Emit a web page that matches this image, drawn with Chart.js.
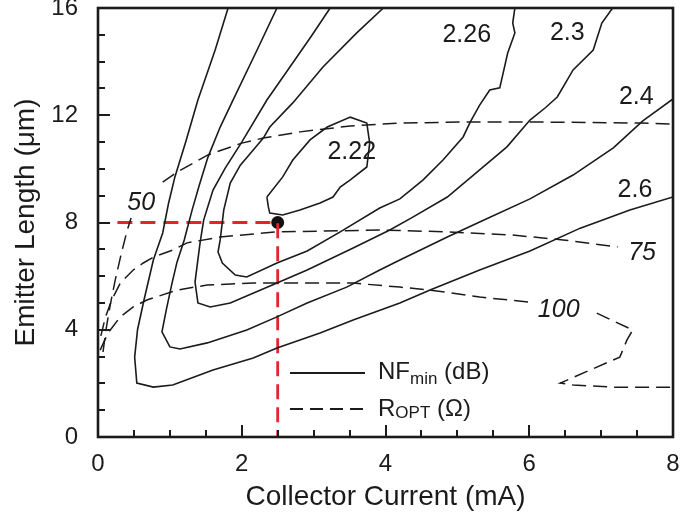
<!DOCTYPE html>
<html>
<head>
<meta charset="utf-8">
<script src="https://cdn.jsdelivr.net/npm/chart.js@4/dist/chart.umd.min.js"></script>
<style>
  html, body { margin: 0; padding: 0; background: #ffffff; }
  #wrap { width: 680px; height: 523px; }
</style>
</head>
<body>
<div id="wrap"><canvas id="chart" width="680" height="523"></canvas></div>
<script>
// NFmin contours (dB): [collector current mA, emitter length um]
const nf222 = [[2.35,8.95],[2.57,9.70],[2.71,10.33],[2.95,11.08],[3.19,11.56],[3.51,11.93],[3.74,11.71],[3.78,10.96],[3.74,10.07],[3.51,9.59],[3.37,9.32],[3.27,8.95],[3.09,8.73],[2.81,8.47],[2.57,8.28],[2.39,8.35],[2.37,8.58],[2.35,8.95]];
const nf226 = [[3.97,16.0],[3.60,15.07],[3.13,13.80],[2.71,12.46],[2.39,11.56],[2.30,11.15],[2.16,10.70],[1.98,10.14],[1.84,9.47],[1.75,8.47],[1.70,7.35],[1.67,6.90],[1.73,6.49],[1.91,6.04],[2.07,5.97],[2.49,6.49],[2.91,6.94],[3.37,7.65],[3.92,8.54],[4.20,8.88],[4.52,9.58],[4.80,10.33],[5.08,11.19],[5.18,11.75],[5.31,12.38],[5.45,12.94],[5.59,13.02],[5.70,14.32],[5.80,15.07],[5.77,15.44],[5.80,16.0]];
const nf230 = [[3.23,16.0],[2.96,14.92],[2.67,13.80],[2.35,12.57],[2.00,11.00],[1.77,10.03],[1.60,9.21],[1.47,8.09],[1.42,7.24],[1.38,6.41],[1.35,5.78],[1.39,5.00],[1.56,4.85],[1.84,5.00],[2.49,5.74],[2.91,6.23],[3.55,7.05],[4.06,7.72],[4.38,8.20],[4.86,8.95],[5.31,9.96],[5.69,10.82],[6.01,11.82],[6.22,12.27],[6.39,12.68],[6.61,13.69],[6.89,14.43],[7.01,15.44],[7.16,16.0]];
const nf240 = [[2.49,16.0],[2.20,14.36],[1.88,12.57],[1.70,11.56],[1.53,10.44],[1.41,9.40],[1.31,8.47],[1.20,7.35],[1.10,6.53],[1.03,5.74],[0.95,4.74],[0.89,3.92],[1.00,3.36],[1.14,3.28],[1.52,3.51],[2.07,3.99],[2.49,4.48],[2.91,5.00],[3.46,5.59],[3.92,6.23],[4.20,6.60],[4.86,7.46],[5.31,8.02],[6.01,8.88],[6.61,9.77],[7.17,10.78],[7.58,11.79],[8.0,12.61]];
const nf260 = [[1.81,16.0],[1.63,14.43],[1.39,12.57],[1.22,11.0],[1.07,9.70],[0.98,8.70],[0.90,7.61],[0.77,6.60],[0.64,5.11],[0.55,4.00],[0.51,2.98],[0.54,2.01],[0.77,1.86],[1.04,1.94],[1.60,2.50],[2.16,2.95],[2.49,3.32],[3.09,3.88],[3.55,4.36],[4.20,5.00],[4.62,5.48],[5.31,6.23],[6.01,6.94],[6.71,7.79],[7.40,8.47],[8.0,8.95]];

// Optimum source resistance contours (ohm); null marks the break left for the value
const ropt50 = [[0.07,3.17],[0.11,3.99],[0.17,4.92],[0.24,5.86],[0.32,6.79],[0.40,7.65],[0.46,8.17],null,[0.90,9.51],[1.10,9.88],[1.53,10.52],[2.00,10.96],[2.30,11.15],[2.81,11.38],[3.51,11.60],[4.20,11.71],[5.18,11.75],[6.04,11.75],[7.57,11.71],[8.0,11.67]];
const ropt75 = [[0.04,3.77],[0.10,4.44],[0.19,5.11],[0.31,5.74],[0.49,6.23],[0.63,6.49],[0.77,6.71],[1.04,6.97],[1.24,7.24],[1.70,7.46],[2.49,7.65],[3.92,7.72],[4.86,7.65],[5.77,7.53],[6.47,7.35],[7.23,7.09]];
const ropt100 = [[0.03,3.24],[0.14,3.88],[0.31,4.48],[0.49,4.85],[0.68,5.11],[1.10,5.48],[1.52,5.67],[2.16,5.74],[3.55,5.74],[4.20,5.59],[4.62,5.48],[5.31,5.22],[6.01,5.03],null,[6.94,4.62],[7.44,3.99],[7.36,3.62],[7.26,2.98],[6.43,2.01],[6.61,1.94],[7.17,1.86],[8.0,1.86]];

// Chosen operating point and the start of its guide line
const optCurrent = 2.5;
const optLength = 8;
const guideStart = 0.27;

// Contour values and where each value is written (data units)
const nfLevels = ['2.22', '2.26', '2.3', '2.4', '2.6'];
const nfLabelAt = [[3.53,10.63],[5.13,14.99],[6.53,15.07],[7.49,12.68],[7.47,9.21]];
const roptLevels = ['50', '75', '100'];
const roptLabelAt = [[0.60,8.73],[7.57,6.86],[6.41,4.74]];

const xTicks = [0, 2, 4, 6, 8];
const yTicks = [0, 4, 8, 12, 16];

const FONT = '"Liberation Sans", Arial, Helvetica, sans-serif';
const INK = '#1b1b1b';
const RED = '#e3242b';

const toPts = arr => arr.map(p => p === null ? { x: null, y: null } : { x: p[0], y: p[1] });

const solid = (data) => ({
  data: toPts(data), showLine: true, borderColor: INK, borderWidth: 1.6,
  pointRadius: 0, pointHoverRadius: 0, spanGaps: false, tension: 0, fill: false
});
const dashed = (data) => Object.assign(solid(data), { borderDash: [14, 7], borderWidth: 1.5 });

// Inward tick marks and the closed plot frame
const frameTicks = {
  id: 'frameTicks',
  afterDatasetsDraw(chart) {
    const { ctx, chartArea: a, scales: { x, y } } = chart;
    ctx.save();
    ctx.strokeStyle = INK;
    ctx.lineWidth = 2;
    ctx.beginPath();
    for (let v = 0.5; v < 8; v += 0.5) {
      const px = Math.round(x.getPixelForValue(v));
      const len = (v % 2 === 0) ? 12 : 7;
      ctx.moveTo(px, a.bottom);
      ctx.lineTo(px, a.bottom - len);
    }
    for (let v = 1; v < 16; v += 1) {
      const py = Math.round(y.getPixelForValue(v));
      const len = (v % 4 === 0) ? 12 : 7;
      ctx.moveTo(a.left, py);
      ctx.lineTo(a.left + len, py);
    }
    ctx.stroke();
    ctx.lineWidth = 2.6;
    ctx.strokeRect(a.left, a.top, a.right - a.left, a.bottom - a.top);
    ctx.restore();
  }
};

// Values written beside the contours, plus the line-style key
const annotations = {
  id: 'annotations',
  afterDraw(chart) {
    const { ctx, chartArea: a, scales: { x, y } } = chart;
    ctx.save();
    ctx.fillStyle = INK;
    ctx.textAlign = 'center';
    ctx.textBaseline = 'middle';
    ctx.font = '25px ' + FONT;
    nfLevels.forEach((t, i) => {
      ctx.fillText(t, x.getPixelForValue(nfLabelAt[i][0]), y.getPixelForValue(nfLabelAt[i][1]));
    });
    ctx.font = 'italic 25px ' + FONT;
    roptLevels.forEach((t, i) => {
      ctx.fillText(t, x.getPixelForValue(roptLabelAt[i][0]), y.getPixelForValue(roptLabelAt[i][1]));
    });

    // key
    const lx1 = a.left + 192, lx2 = a.left + 267, tx = a.left + 280;
    const r1 = a.bottom - 64, r2 = a.bottom - 28;
    ctx.strokeStyle = INK;
    ctx.lineWidth = 2;
    ctx.beginPath();
    ctx.moveTo(lx1, r1); ctx.lineTo(lx2, r1);
    ctx.stroke();
    ctx.setLineDash([13, 7]);
    ctx.beginPath();
    ctx.moveTo(lx1, r2); ctx.lineTo(lx2, r2);
    ctx.stroke();
    ctx.setLineDash([]);

    ctx.textAlign = 'left';
    ctx.textBaseline = 'alphabetic';
    const run = (parts, x0, base) => {
      let cx = x0;
      parts.forEach(([txt, size, dy]) => {
        ctx.font = size + 'px ' + FONT;
        ctx.fillText(txt, cx, base + dy);
        cx += ctx.measureText(txt).width;
      });
    };
    run([['NF', 24, 0], ['min', 17, 5], [' (dB)', 24, 0]], tx, r1 + 6);
    run([['R', 24, 0], ['OPT', 17, 2], [' (\u03A9)', 24, 0]], tx, r2 + 7);
    ctx.restore();
  }
};

new Chart(document.getElementById('chart'), {
  type: 'scatter',
  data: {
    datasets: [
      solid(nf222), solid(nf226), solid(nf230), solid(nf240), solid(nf260),
      dashed(ropt50), dashed(ropt75), dashed(ropt100),
      {
        data: [{ x: guideStart, y: optLength }, { x: optCurrent, y: optLength }, { x: optCurrent, y: 0 }],
        showLine: true, borderColor: RED, borderWidth: 2.8, borderDash: [15, 8],
        pointRadius: 0, pointHoverRadius: 0, tension: 0, fill: false
      },
      {
        data: [{ x: optCurrent, y: optLength }],
        showLine: false, pointRadius: 6.5, pointHoverRadius: 6.5,
        backgroundColor: '#111', borderColor: '#111', borderWidth: 0
      }
    ]
  },
  options: {
    responsive: false,
    devicePixelRatio: 1,
    animation: false,
    events: [],
    layout: { padding: { top: 8, right: 7, left: 0, bottom: 0 } },
    plugins: { legend: { display: false }, tooltip: { enabled: false } },
    scales: {
      x: {
        type: 'linear', min: 0, max: 8,
        afterBuildTicks: s => { s.ticks = xTicks.map(v => ({ value: v })); },
        afterFit: s => { s.height = 86; s.paddingLeft = 0; s.paddingRight = 0; },
        grid: { display: false, drawTicks: false },
        border: { display: false },
        ticks: { color: INK, font: { family: FONT, size: 24 }, padding: 13, maxRotation: 0 },
        title: { display: true, text: 'Collector Current (mA)', color: INK,
                 font: { family: FONT, size: 28 }, padding: { top: 0, bottom: 9 } }
      },
      y: {
        type: 'linear', min: 0, max: 16,
        afterBuildTicks: s => { s.ticks = yTicks.map(v => ({ value: v })); },
        afterFit: s => { s.width = 98; s.paddingTop = 0; s.paddingBottom = 0; },
        grid: { display: false, drawTicks: false },
        border: { display: false },
        ticks: { color: INK, font: { family: FONT, size: 24 }, padding: 20 },
        title: { display: true, text: 'Emitter Length (\u03BCm)', color: INK,
                 font: { family: FONT, size: 28 }, padding: { top: 9, bottom: 0 } }
      }
    }
  },
  plugins: [frameTicks, annotations]
});
</script>
</body>
</html>
